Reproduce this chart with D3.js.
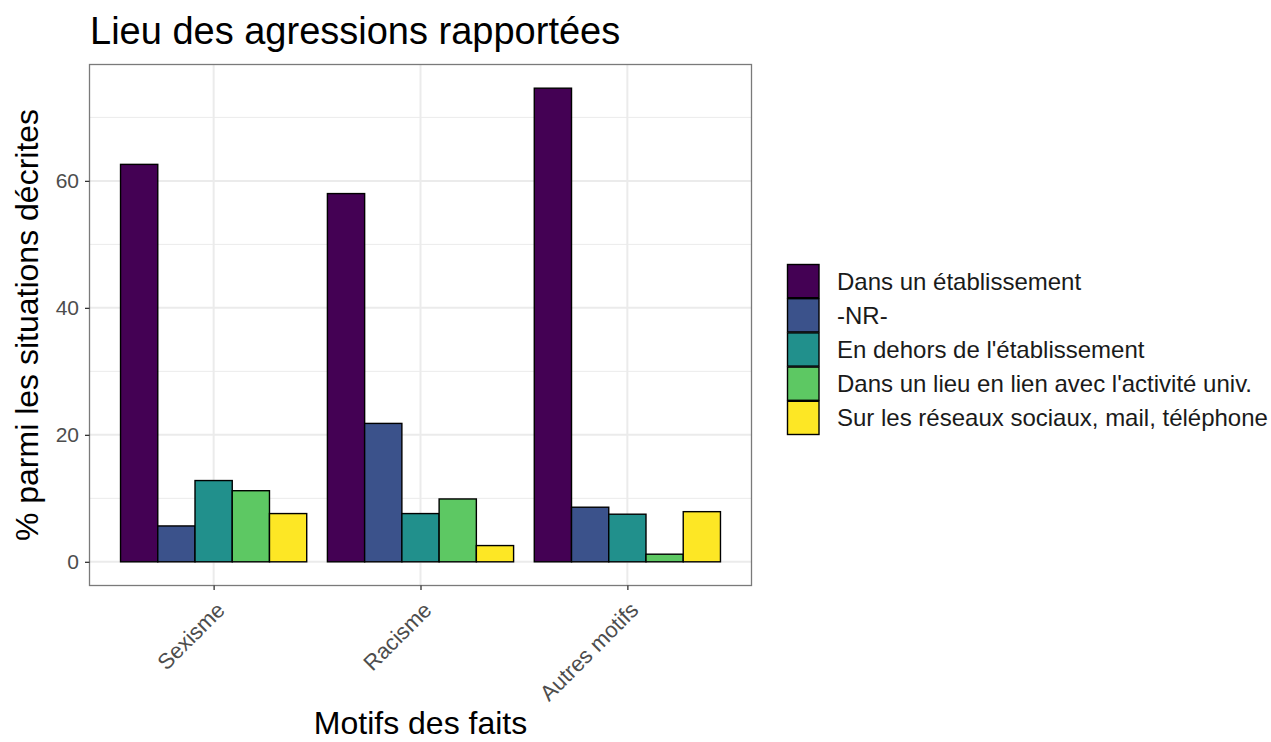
<!DOCTYPE html>
<html><head><meta charset="utf-8">
<script src="https://cdn.jsdelivr.net/npm/d3@7"></script>
<style>body{margin:0;background:#fff;} text{font-family:"Liberation Sans",Arial,sans-serif;}</style>
</head><body>
<svg id="chart" width="1271" height="742"></svg>
<script>
const categories = ["Sexisme", "Racisme", "Autres motifs"];
const seriesNames = ["Dans un établissement", "-NR-", "En dehors de l'établissement", "Dans un lieu en lien avec l'activité univ.", "Sur les réseaux sociaux, mail, téléphone"];
const seriesColors = ["#440154", "#3B528B", "#21908C", "#5DC863", "#FDE725"];
const valDans = [62.6, 58.0, 74.6];
const valNR = [5.65, 21.8, 8.6];
const valDehors = [12.8, 7.6, 7.5];
const valLieu = [11.2, 9.9, 1.2];
const valReseaux = [7.6, 2.56, 7.9];
const yTicks = [0, 20, 40, 60];
const yMinor = [10, 30, 50, 70];

const seriesValues = [valDans, valNR, valDehors, valLieu, valReseaux];
const svg = d3.select("#chart");
const P = {l: 89.5, r: 751.5, t: 64.5, b: 585.5};

const ymax = d3.max(seriesValues.flat()), exp = ymax * 0.05;
const y = d3.scaleLinear().domain([-exp, ymax + exp]).range([P.b, P.t]);
const xBand = d3.scaleLinear().domain([0.4, categories.length + 0.6]).range([P.l, P.r]);
const unit = xBand(2) - xBand(1);
const barW = unit * 0.9 / seriesNames.length;

// grid
const g = svg.append("g");
g.selectAll(".minor").data(yMinor).join("line")
  .attr("x1", P.l).attr("x2", P.r).attr("y1", d => y(d)).attr("y2", d => y(d))
  .attr("stroke", "#ebebeb").attr("stroke-width", 1);
g.selectAll(".major").data(yTicks).join("line")
  .attr("x1", P.l).attr("x2", P.r).attr("y1", d => y(d)).attr("y2", d => y(d))
  .attr("stroke", "#ebebeb").attr("stroke-width", 2);
g.selectAll(".vmajor").data(categories).join("line")
  .attr("x1", (d, i) => xBand(i + 1)).attr("x2", (d, i) => xBand(i + 1))
  .attr("y1", P.t).attr("y2", P.b)
  .attr("stroke", "#ebebeb").attr("stroke-width", 2);

// bars
const bars = [];
categories.forEach((c, ci) => {
  seriesNames.forEach((s, si) => {
    bars.push({ci, si, v: seriesValues[si][ci]});
  });
});
svg.append("g").selectAll("rect").data(bars).join("rect")
  .attr("x", d => xBand(d.ci + 1) - unit * 0.45 + d.si * barW)
  .attr("width", barW)
  .attr("y", d => y(d.v))
  .attr("height", d => y(0) - y(d.v))
  .attr("fill", d => seriesColors[d.si])
  .attr("stroke", "#000").attr("stroke-width", 1.4);

// panel border
svg.append("rect").attr("x", P.l).attr("y", P.t).attr("width", P.r - P.l).attr("height", P.b - P.t)
  .attr("fill", "none").attr("stroke", "#7a7a7a").attr("stroke-width", 1.3);

// y axis
const yAxis = d3.axisLeft(y).tickValues(yTicks).tickSize(4.5).tickPadding(6);
const ya = svg.append("g").attr("transform", `translate(${P.l},0)`).call(yAxis);
ya.select(".domain").remove();
ya.selectAll(".tick line").attr("stroke", "#333").attr("stroke-width", 1.3);
ya.selectAll(".tick text").attr("fill", "#4d4d4d").style("font-size", "21px").style("font-family", "Liberation Sans, Arial, sans-serif");

// x axis
const xScaleCat = d3.scaleOrdinal().domain(categories).range(categories.map((c, i) => xBand(i + 1)));
const xAxis = d3.axisBottom(xScaleCat).tickSize(4.5).tickPadding(4);
const xa = svg.append("g").attr("transform", `translate(0,${P.b})`).call(xAxis);
xa.select(".domain").remove();
xa.selectAll(".tick line").attr("stroke", "#333").attr("stroke-width", 1.3);
xa.selectAll(".tick text").attr("fill", "#4d4d4d").style("font-size", "22px")
  .style("font-family", "Liberation Sans, Arial, sans-serif")
  .attr("text-anchor", "end").attr("dy", null).attr("y", null)
  .attr("transform", "translate(12,26) rotate(-45)");

// titles
svg.append("text").attr("x", 90).attr("y", 44).text("Lieu des agressions rapportées")
  .style("font-size", "38px").attr("fill", "#000");
svg.append("text").attr("transform", `translate(38,${(P.t + P.b) / 2}) rotate(-90)`)
  .attr("text-anchor", "middle").text("% parmi les situations décrites")
  .style("font-size", "32px").attr("fill", "#000");
svg.append("text").attr("x", (P.l + P.r) / 2).attr("y", 734).attr("text-anchor", "middle")
  .text("Motifs des faits").style("font-size", "32px").attr("fill", "#000");

// legend
const lg = svg.append("g").attr("transform", "translate(787,264)");
const keyH = 34.2;
lg.selectAll("rect").data(seriesNames).join("rect")
  .attr("x", 0.5).attr("y", (d, i) => i * keyH + 0.5).attr("width", 31.5).attr("height", keyH - 1)
  .attr("fill", (d, i) => seriesColors[i]).attr("stroke", "#000").attr("stroke-width", 1.4);
lg.selectAll("text").data(seriesNames).join("text")
  .attr("x", 50).attr("y", (d, i) => i * keyH + keyH / 2).attr("dy", "0.35em")
  .text(d => d).style("font-size", "24px").attr("fill", "#1a1a1a");
</script>
</body></html>
